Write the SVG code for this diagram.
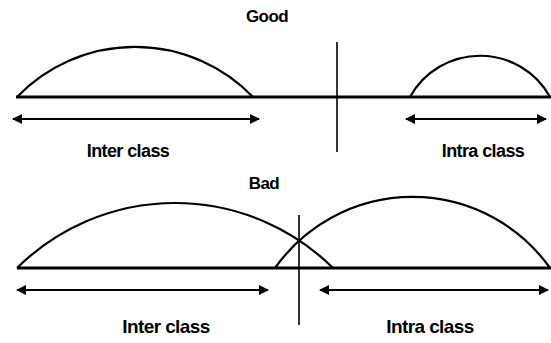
<svg xmlns="http://www.w3.org/2000/svg" width="551" height="343" viewBox="0 0 551 343">
<style>
.bg{fill:#fff}
.base{stroke:#000;stroke-width:3.2;fill:none}
.arc{stroke:#000;stroke-width:2.2;fill:none}
.arr{stroke:#000;stroke-width:2;fill:none;marker-start:url(#ah);marker-end:url(#ah)}
.vl{stroke:#000;stroke-width:1.6}
text{font-family:"Liberation Sans",Arial,sans-serif;font-weight:bold;fill:#000;text-anchor:middle;letter-spacing:-0.6px}
</style>
<defs>
<marker id="ah" viewBox="0 0 10 10" refX="9" refY="5" markerWidth="5.5" markerHeight="5" markerUnits="strokeWidth" orient="auto-start-reverse">
<path d="M0,0 L10,5 L0,10 z" fill="#000"/>
</marker>
</defs>
<rect class="bg" width="551" height="343"/>
<g id="good">
<text x="267" y="22" font-size="17">Good</text>
<line class="base" x1="16" y1="97" x2="551" y2="97"/>
<path id="good-inter-curve" class="arc" d="M17,97 A164,164 0 0 1 253,97"/>
<path id="good-intra-curve" class="arc" d="M410,97 A80,80 0 0 1 550,97"/>
<line class="vl" x1="337" y1="42" x2="337" y2="152"/>
<g id="good-inter"><line class="arr" x1="13" y1="119" x2="259" y2="119"/><text x="128" y="157" font-size="18">Inter class</text></g>
<g id="good-intra"><line class="arr" x1="406" y1="119" x2="546" y2="119"/><text x="483" y="157" font-size="18">Intra class</text></g>
</g>
<g id="bad">
<text x="264" y="189" font-size="17">Bad</text>
<line class="base" x1="17" y1="268" x2="551" y2="268"/>
<path id="bad-inter-curve" class="arc" d="M17,268 A224.5,224.5 0 0 1 333,268"/>
<path id="bad-intra-curve" class="arc" d="M275,268 A168.6,168.6 0 0 1 550,268"/>
<line class="vl" x1="299" y1="215" x2="299" y2="325"/>
<g id="bad-inter"><line class="arr" x1="17" y1="290" x2="268" y2="290"/><text x="166" y="333" font-size="19">Inter class</text></g>
<g id="bad-intra"><line class="arr" x1="320" y1="290" x2="548" y2="290"/><text x="430" y="333" font-size="19">Intra class</text></g>
</g>
</svg>
